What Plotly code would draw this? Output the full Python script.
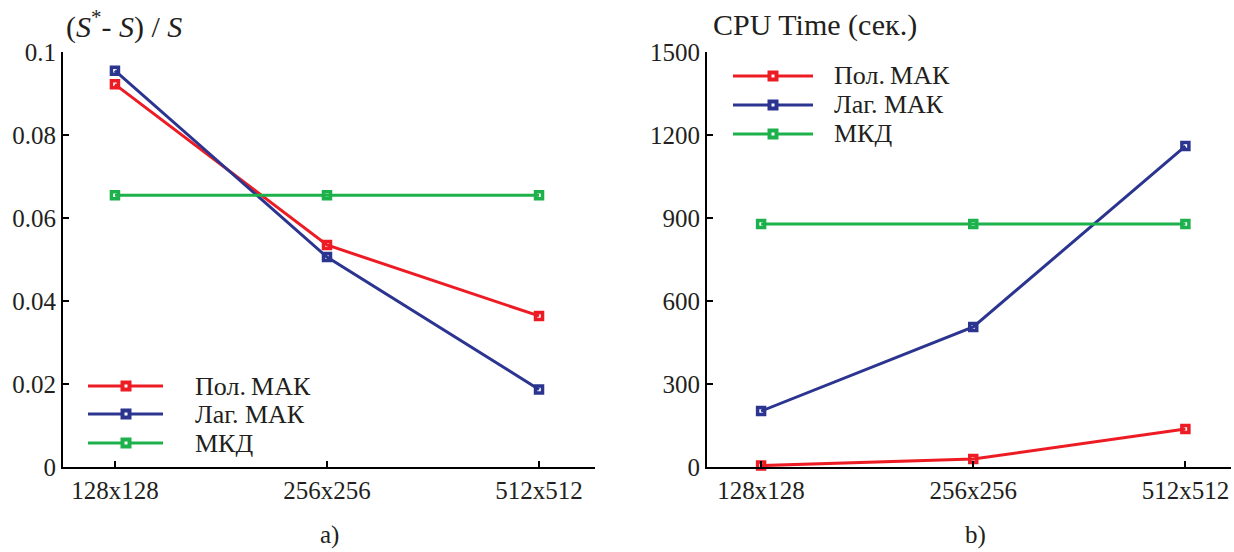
import plotly.graph_objects as go
from plotly.subplots import make_subplots

# Grid sizes along the x axis
categories = ["128x128", "256x256", "512x512"]

# Relative error (S* - S) / S
err_pol = [0.0922, 0.0535, 0.0364]
err_lag = [0.0955, 0.0506, 0.0187]
err_mkd = [0.0655, 0.0655, 0.0655]

# CPU time, seconds
cpu_pol = [5, 29, 137]
cpu_lag = [202, 506, 1160]
cpu_mkd = [878, 878, 878]

series_names = ["Пол.\u2009МАК", "Лаг. МАК", "МКД"]
colors = ["#ED1C24", "#2B3590", "#1DB14B"]

W, H = 1234, 552
FONT = "Liberation Serif"
INK = "#231F20"

fig = make_subplots(rows=1, cols=2)
xs = list(range(len(categories)))

for col, group in ((1, (err_pol, err_lag, err_mkd)), (2, (cpu_pol, cpu_lag, cpu_mkd))):
    for name, color, vals in zip(series_names, colors, group):
        fig.add_trace(
            go.Scatter(
                x=xs, y=vals, name=name, mode="lines+markers",
                line=dict(color=color, width=3),
                marker=dict(symbol="square-open", size=7, color=color,
                            line=dict(color=color, width=3.5)),
                cliponaxis=False, showlegend=False,
            ),
            row=1, col=col,
        )

axis_common = dict(
    showline=True, linecolor="black", linewidth=2,
    ticks="inside", ticklen=6, tickwidth=1.5, tickcolor="black",
    showgrid=False, zeroline=False, automargin=False,
    tickfont=dict(family=FONT, size=25, color=INK),
)

def px_x(p):
    return p / W

def px_y(p):
    return (H - p) / H

fig.update_xaxes(**axis_common, tickvals=xs, ticktext=categories)
fig.update_yaxes(**axis_common)
fig.update_layout(
    xaxis=dict(domain=[px_x(63), px_x(595)], range=[-0.245, 2.264]),
    xaxis2=dict(domain=[px_x(707), px_x(1231)], range=[-0.255, 2.215]),
    yaxis=dict(domain=[px_y(467), px_y(52)], range=[0, 0.1],
               tickvals=[0, 0.02, 0.04, 0.06, 0.08, 0.1],
               ticktext=["0", "0.02", "0.04", "0.06", "0.08", "0.1"]),
    yaxis2=dict(domain=[px_y(467), px_y(52)], range=[0, 1500],
                tickvals=[0, 300, 600, 900, 1200, 1500]),
    width=W, height=H,
    margin=dict(l=0, r=0, t=0, b=0),
    paper_bgcolor="white", plot_bgcolor="white",
    showlegend=False,
)

# Axis titles and panel captions
title_font = dict(family=FONT, size=30, color=INK)
fig.add_annotation(x=px_x(64), y=px_y(25), xref="paper", yref="paper",
                   xanchor="left", yanchor="middle", showarrow=False,
                   text="(<i>S</i><sup>*</sup>- <i>S</i>) / <i>S</i>", font=title_font)
fig.add_annotation(x=px_x(711), y=px_y(25), xref="paper", yref="paper",
                   xanchor="left", yanchor="middle", showarrow=False,
                   text="CPU Time (сек.)", font=title_font)
for label, cx in (("a)", 329), ("b)", 975)):
    fig.add_annotation(x=px_x(cx), y=px_y(535), xref="paper", yref="paper",
                       xanchor="center", yanchor="middle", showarrow=False,
                       text=label, font=dict(family=FONT, size=25, color=INK))

# Legend boxes drawn as line samples, square markers and labels
def draw_legend(x0, x1, xm, xt, rows):
    for name, color, ry in zip(series_names, colors, rows):
        fig.add_shape(type="line", xref="paper", yref="paper",
                      x0=px_x(x0), x1=px_x(x1), y0=px_y(ry), y1=px_y(ry),
                      line=dict(color=color, width=3))
        fig.add_shape(type="rect", xref="paper", yref="paper",
                      x0=px_x(xm - 3.5), x1=px_x(xm + 3.5),
                      y0=px_y(ry + 3.5), y1=px_y(ry - 3.5),
                      line=dict(color=color, width=4), fillcolor="white")
        fig.add_annotation(x=px_x(xt), y=px_y(ry), xref="paper", yref="paper",
                           xanchor="left", yanchor="middle", showarrow=False,
                           text=name, font=dict(family=FONT, size=26, color=INK))

draw_legend(88, 163, 126, 193, [386, 414, 443])
draw_legend(733, 813, 773, 832, [76, 105, 134])

fig.write_html("out.html")
